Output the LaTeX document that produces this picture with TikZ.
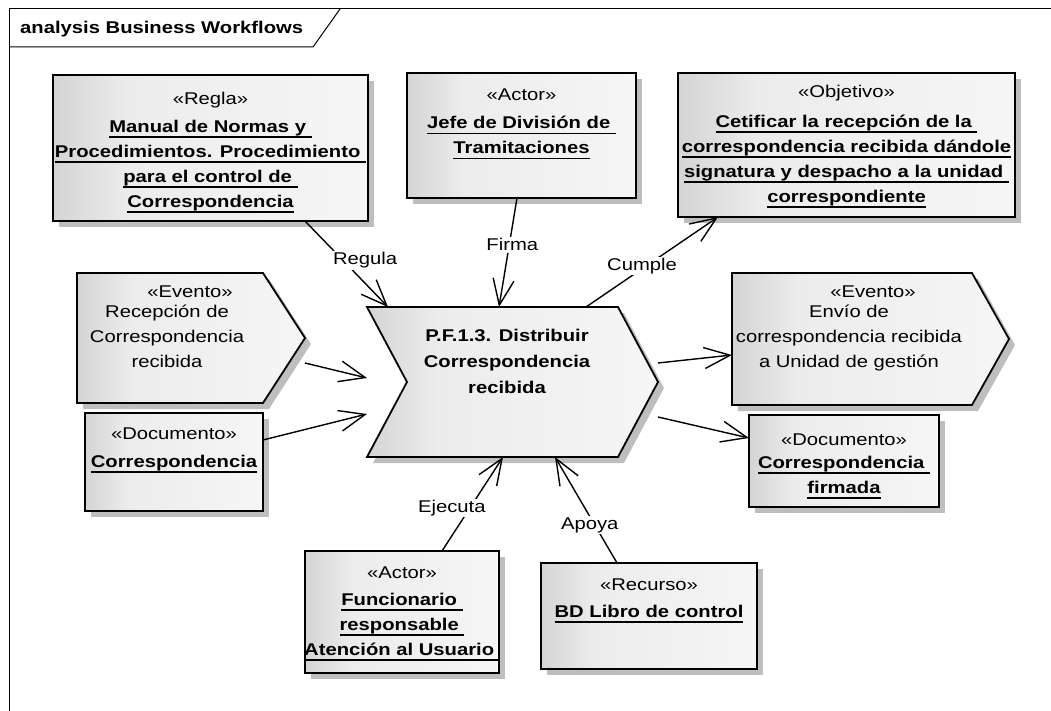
\documentclass[tikz,border=0pt]{standalone}
\usepackage{fontspec}
\setmainfont{Liberation Sans}[FakeStretch=1.19]
\usepackage{tikz}
\usetikzlibrary{arrows.meta, shadows, calc}
\definecolor{eaA}{RGB}{212,212,212}
\definecolor{eaB}{RGB}{236,236,236}
\definecolor{eaC}{RGB}{246,246,246}
\definecolor{eashadow}{RGB}{190,190,190}
\pgfdeclarehorizontalshading{eagrad}{100bp}{color(0bp)=(eaA); color(25bp)=(eaA); color(37bp)=(eaB); color(75bp)=(eaC); color(100bp)=(eaC)}
\newcommand{\nmline}[1]{\setbox0=\hbox{\bfseries #1}\rlap{\rule[-5.5pt]{\wd0}{1.4pt}}\box0}
\newcommand{\firstln}{\rule{0pt}{14pt}}

\begin{document}
\begin{tikzpicture}[x=1pt, y=-1pt, font=\fontsize{17}{25}\selectfont,
  eafill/.style={draw, line width=1.8pt, shade, shading=eagrad,
    drop shadow={shadow xshift=6pt, shadow yshift=-6pt, fill=eashadow, opacity=1}},
  elem/.style={eafill, rectangle, anchor=north west, inner sep=0pt, outer sep=0pt},
  bbox/.style={rectangle, anchor=north west, inner sep=0pt, outer sep=0pt},
  etext/.style={anchor=north, align=center, inner sep=0pt},
  stereo/.style={anchor=base, inner sep=0pt},
  conn/.style={line width=1.4pt, -{Straight Barb[length=26pt, width=21pt]}},
  lbl/.style={fill=white, inner sep=1.5pt}]
\useasboundingbox (0,0) rectangle (1051,711);

% frame
\draw[line width=1pt] (1051,9) -- (9,9) -- (9,711);
\draw[line width=1pt] (9,47) -- (313,47) -- (340,9);
\node[anchor=base west, inner sep=0pt, font=\fontsize{17}{25}\selectfont\bfseries] (title) at (20,34) {analysis Business Workflows};

% elements
\node[elem, minimum width=315pt, minimum height=146pt] (regla) at (53,75) {};
\node[etext] (reglaT) at ([yshift=-15pt]regla.north) {\firstln«Regla»\\[3pt]\nmline{Manual de Normas y\ }\\\nmline{Procedimientos. Procedimiento\ }\\\nmline{para el control de\ }\\\nmline{Correspondencia}};

\node[elem, minimum width=229pt, minimum height=125pt] (jefe) at (407,73) {};
\node[etext] (jefeT) at ([yshift=-13.5pt]jefe.north) {\firstln«Actor»\\[3pt]\nmline{Jefe de División de\ }\\\nmline{Tramitaciones}};

\node[elem, minimum width=337pt, minimum height=144pt] (obj) at (678,73) {};
\node[etext] (objT) at ([yshift=-10pt]obj.north) {\firstln«Objetivo»\\[5pt]\nmline{Cetificar la recepción de la\ }\\\nmline{correspondencia recibida dándole}\\\nmline{signatura y despacho a la unidad\ }\\\nmline{correspondiente}};

\node[elem, minimum width=178pt, minimum height=98pt] (docl) at (85,413) {};
\node[etext] (doclT) at ([yshift=-12pt]docl.north) {\firstln«Documento»\\[3pt]\nmline{Correspondencia}};

\node[elem, minimum width=190pt, minimum height=92pt] (docr) at (749,415) {};
\node[etext] (docrT) at ([yshift=-16pt]docr.north) {\firstln«Documento»\\[-2pt]\nmline{Correspondencia\ }\\\nmline{firmada}};

\node[elem, minimum width=194pt, minimum height=122pt] (actb) at (305,551) {};
\node[etext] (actbT) at ([yshift=-13pt]actb.north) {\firstln«Actor»\\[2pt]\nmline{Funcionario\ }\\\nmline{responsable\ }\\\nmline{Atención al Usuario\ }};

\node[elem, minimum width=216pt, minimum height=106pt] (recu) at (541,563) {};
\node[etext] (recuT) at ([yshift=-13pt]recu.north) {\firstln«Recurso»\\[2pt]\nmline{BD Libro de control}};

% events
\node[bbox, minimum width=228pt, minimum height=130pt] (evl) at (77,273) {};
\path[eafill] (evl.north west) -- ([xshift=-42pt]evl.north east) -- (evl.east)
  -- ([xshift=-42pt]evl.south east) -- (evl.south west) -- cycle;
\node[stereo] (evlS) at ([xshift=-1pt, yshift=-24pt]evl.north) {«Evento»};
\node[etext] (evlT) at ([xshift=-24pt, yshift=-30pt]evl.north) {\firstln Recepción de\\Correspondencia\\recibida};

\node[bbox, minimum width=277pt, minimum height=132pt] (evr) at (732,273) {};
\path[eafill] (evr.north west) -- ([xshift=-37pt]evr.north east) -- (evr.east)
  -- ([xshift=-37pt]evr.south east) -- (evr.south west) -- cycle;
\node[stereo] (evrS) at ([xshift=2.5pt, yshift=-24pt]evr.north) {«Evento»};
\node[etext] (evrT) at ([xshift=-21.5pt, yshift=-30pt]evr.north) {\firstln Envío de\\correspondencia recibida\\a Unidad de gestión};

% process
\node[bbox, minimum width=291pt, minimum height=150pt] (chev) at (367,307) {};
\path[eafill] (chev.north west) -- ([xshift=-40pt]chev.north east) -- (chev.east)
  -- ([xshift=-40pt]chev.south east) -- (chev.south west) -- ([xshift=40pt]chev.west) -- cycle;
\node[etext, font=\fontsize{17}{25}\selectfont\bfseries] (chevT) at ([xshift=-5.5pt, yshift=-20pt]chev.north) {\firstln P.F.1.3. Distribuir\\[1pt]Correspondencia\\[1pt]recibida};

% connectors
\draw[conn] ([xshift=252pt]regla.south west) -- node[lbl, pos=.46, xshift=22pt] (regula) {Regula} ([xshift=21pt]chev.north west);
\draw[conn] ([xshift=110pt]jefe.south west) -- node[lbl, pos=.43, xshift=3pt] (firma) {Firma} ([xshift=132pt]chev.north west);
\draw[conn] ([xshift=219pt]chev.north west) -- node[lbl, pos=.455, xshift=-4pt] (cumple) {Cumple} ([xshift=40pt]obj.south west);
\draw[conn] ([yshift=-25pt]evl.east) -- ([yshift=4pt]chev.west);
\draw[conn] ([yshift=22pt]docl.east) -- ([yshift=-32pt]chev.west);
\draw[conn] ([yshift=19pt]chev.east) -- ([yshift=-16pt]evr.west);
\draw[conn] ([yshift=-35pt]chev.east) -- ([yshift=23pt]docr.west);
\draw[conn] ([xshift=137pt]actb.north west) -- node[lbl, pos=.457, xshift=-18pt] (ejecuta) {Ejecuta} ([xshift=136pt]chev.south west);
\draw[conn] ([xshift=76pt]recu.north west) -- node[lbl, pos=.358, xshift=-5pt] (apoya) {Apoya} ([xshift=188pt]chev.south west);
\end{tikzpicture}
\end{document}
